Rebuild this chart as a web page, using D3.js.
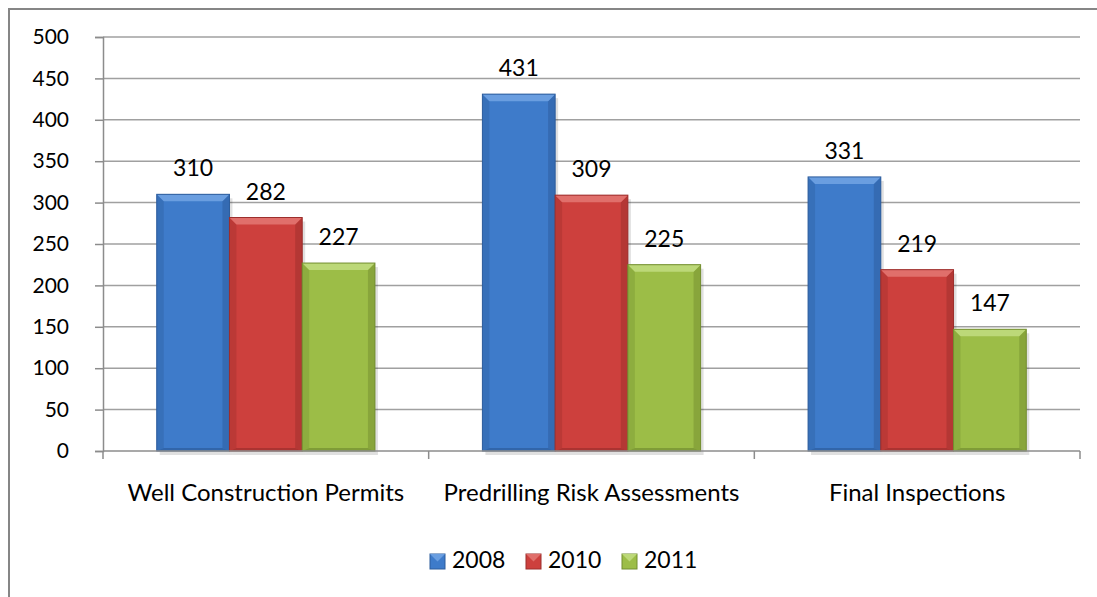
<!DOCTYPE html>
<html>
<head>
<meta charset="utf-8">
<script src="https://cdn.jsdelivr.net/npm/d3@7"></script>
<style>
  body { margin: 0; background: #fff; }
  svg { display: block; font-family: Lato, "Open Sans", sans-serif; }
</style>
</head>
<body>
<svg width="1097" height="597"></svg>
<script>
const categories = ['Well Construction Permits', 'Predrilling Risk Assessments', 'Final Inspections'];
const years = ['2008', '2010', '2011'];
const values2008 = [310, 431, 331];
const values2010 = [282, 309, 219];
const values2011 = [227, 225, 147];
const yTicks = [0, 50, 100, 150, 200, 250, 300, 350, 400, 450, 500];

const colors = {
  '2008': { body: '#3e7bca', light: '#6a9ee0', dark: '#2c5c9c' },
  '2010': { body: '#cd403d', light: '#e06f6b', dark: '#9c2e2c' },
  '2011': { body: '#9cbd47', light: '#bcd878', dark: '#738e30' }
};

const series = years.map((y, i) => ({
  year: y,
  values: [values2008, values2010, values2011][i]
}));

const svg = d3.select('svg');

// outer frame
svg.append('rect')
  .attr('x', 9).attr('y', 9)
  .attr('width', 1110).attr('height', 600)
  .attr('fill', 'none')
  .attr('stroke', '#868686')
  .attr('stroke-width', 2);

const plotLeft = 103, plotRight = 1080, plotTop = 37, plotBottom = 451;

const y = d3.scaleLinear().domain([0, 500]).range([plotBottom, plotTop]);
const x0 = d3.scaleBand().domain(categories).range([plotLeft, plotRight]).padding(0);
const bw = x0.bandwidth();
const x1 = d3.scaleBand().domain(years).range([bw * 0.165, bw * 0.835]).padding(0);

// gridlines
svg.append('g')
  .selectAll('line')
  .data(yTicks.slice(1))
  .join('line')
  .attr('x1', plotLeft).attr('x2', plotRight)
  .attr('y1', d => y(d)).attr('y2', d => y(d))
  .attr('stroke', '#a0a0a0')
  .attr('stroke-width', 1.5);

// y axis
const yAxis = svg.append('g')
  .attr('transform', `translate(${plotLeft},0)`)
  .call(d3.axisLeft(y).tickValues(yTicks).tickSize(8).tickPadding(26));
yAxis.select('.domain').attr('stroke', '#8c8c8c').attr('stroke-width', 1.5);
yAxis.selectAll('.tick line').attr('stroke', '#8c8c8c').attr('stroke-width', 1.5);
yAxis.selectAll('.tick text')
  .attr('font-size', 21)
  .attr('font-family', 'Lato, sans-serif')
  .attr('fill', '#000');

// bars
const groups = svg.append('g')
  .selectAll('g')
  .data(categories)
  .join('g')
  .attr('transform', d => `translate(${x0(d)},0)`);

const bars = groups.selectAll('g.bar')
  .data((c, ci) => series.map(s => ({ year: s.year, value: s.values[ci] })))
  .join('g')
  .attr('class', 'bar');

// shadow
bars.append('rect')
  .attr('x', d => x1(d.year) + 3)
  .attr('y', d => y(d.value) + 4)
  .attr('width', x1.bandwidth())
  .attr('height', d => plotBottom - y(d.value))
  .attr('fill', '#000')
  .attr('opacity', 0.12);

bars.append('rect')
  .attr('x', d => x1(d.year))
  .attr('y', d => y(d.value))
  .attr('width', x1.bandwidth())
  .attr('height', d => plotBottom - y(d.value))
  .attr('fill', d => colors[d.year].body);

const bev = 7;
function bevel(d, side) {
  const x = x1(d.year), w = x1.bandwidth(), t = y(d.value), b = plotBottom;
  if (side === 'top') return [[x, t], [x + w, t], [x + w - bev, t + bev], [x + bev, t + bev]];
  if (side === 'left') return [[x, t], [x + bev, t + bev], [x + bev, b - 3], [x, b]];
  if (side === 'right') return [[x + w, t], [x + w - bev, t + bev], [x + w - bev, b - 3], [x + w, b]];
  return [[x, b], [x + bev, b - 3], [x + w - bev, b - 3], [x + w, b]];
}
bars.append('polygon')
  .attr('points', d => bevel(d, 'left').join(' '))
  .attr('fill', d => colors[d.year].dark).attr('opacity', 0.35);
bars.append('polygon')
  .attr('points', d => bevel(d, 'right').join(' '))
  .attr('fill', d => colors[d.year].dark).attr('opacity', 0.5);
bars.append('polygon')
  .attr('points', d => bevel(d, 'bottom').join(' '))
  .attr('fill', d => colors[d.year].dark).attr('opacity', 0.7);
bars.append('polygon')
  .attr('points', d => bevel(d, 'top').join(' '))
  .attr('fill', d => colors[d.year].light);
bars.append('rect')
  .attr('x', d => x1(d.year))
  .attr('y', d => y(d.value))
  .attr('width', x1.bandwidth())
  .attr('height', d => plotBottom - y(d.value))
  .attr('fill', 'none')
  .attr('stroke', d => colors[d.year].dark)
  .attr('stroke-width', 1);

// value labels
bars.append('text')
  .attr('x', d => x1(d.year) + x1.bandwidth() / 2)
  .attr('y', d => y(d.value) - 18)
  .attr('text-anchor', 'middle')
  .attr('font-size', 23)
  .attr('fill', '#000')
  .text(d => d.value);

// x axis
const xAxis = svg.append('g')
  .attr('transform', `translate(0,${plotBottom})`)
  .call(d3.axisBottom(x0).tickSize(0));
xAxis.select('.domain').remove();
xAxis.selectAll('.tick text')
  .attr('y', 50)
  .attr('dy', 0)
  .attr('font-size', 24)
  .attr('font-family', 'Lato, sans-serif')
  .attr('fill', '#000');
svg.append('line')
  .attr('x1', plotLeft).attr('x2', plotRight)
  .attr('y1', plotBottom).attr('y2', plotBottom)
  .attr('stroke', '#8c8c8c').attr('stroke-width', 1.5);
svg.append('g')
  .selectAll('line')
  .data(d3.range(categories.length + 1))
  .join('line')
  .attr('x1', i => plotLeft + i * bw).attr('x2', i => plotLeft + i * bw)
  .attr('y1', plotBottom).attr('y2', plotBottom + 8)
  .attr('stroke', '#8c8c8c').attr('stroke-width', 1.5);

// legend
const legend = svg.append('g').attr('transform', 'translate(430,554)');
const item = legend.selectAll('g')
  .data(years)
  .join('g')
  .attr('transform', (d, i) => `translate(${i * 96},0)`);
item.append('rect')
  .attr('width', 15).attr('height', 15)
  .attr('fill', d => colors[d].body)
  .attr('stroke', d => colors[d].dark)
  .attr('stroke-width', 1);
item.append('polygon')
  .attr('points', '0,0 15,0 7.5,7.5')
  .attr('fill', d => colors[d].light);
item.append('text')
  .attr('x', 22).attr('y', 14)
  .attr('font-size', 23)
  .attr('fill', '#000')
  .text(d => d);
</script>
</body>
</html>
